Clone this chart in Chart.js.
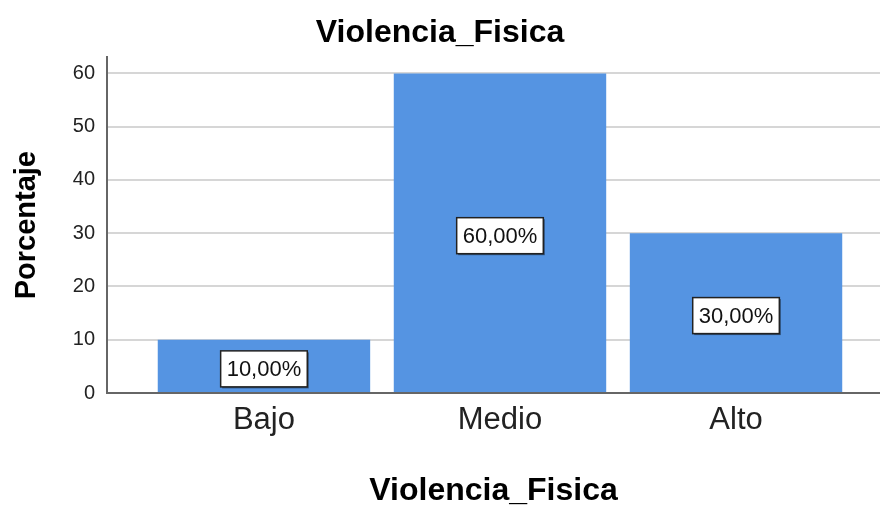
<!DOCTYPE html>
<html>
<head>
<meta charset="utf-8">
<title>Violencia_Fisica</title>
<script src="https://cdn.jsdelivr.net/npm/chart.js@4/dist/chart.umd.min.js"></script>
<style>
    body { margin: 0; background: #fff; }
    canvas { display: block; }
</style>
</head>
<body>
<canvas id="violenciaChart" width="880" height="506"></canvas>
<script>
// Data
const categories = ['Bajo', 'Medio', 'Alto'];
const percentages = [10, 60, 30];
const yTicks = [0, 10, 20, 30, 40, 50, 60];

const barColor = '#5594e2';

Chart.defaults.font.family = '"Liberation Sans", Arial, sans-serif';
Chart.defaults.color = '#222';

// Boxed percentage labels in the middle of each bar
const boxLabels = {
    id: 'boxLabels',
    afterDatasetsDraw(chart) {
        const ctx = chart.ctx;
        const meta = chart.getDatasetMeta(0);
        ctx.save();
        ctx.font = '22px "Liberation Sans", Arial, sans-serif';
        ctx.textAlign = 'center';
        ctx.textBaseline = 'middle';
        meta.data.forEach(function(bar, i) {
            const text = percentages[i].toFixed(2).replace('.', ',') + '%';
            const w = ctx.measureText(text).width + 12;
            const h = 36;
            const cx = bar.x;
            const cy = (bar.y + bar.base) / 2 + 3;
            // little shadow like SPSS
            ctx.fillStyle = 'rgba(0,0,0,0.45)';
            ctx.fillRect(cx - w / 2 + 1.5, cy - h / 2 + 1.5, w, h);
            ctx.fillStyle = '#fff';
            ctx.fillRect(cx - w / 2, cy - h / 2, w, h);
            ctx.strokeStyle = '#222';
            ctx.lineWidth = 1.5;
            ctx.strokeRect(cx - w / 2, cy - h / 2, w, h);
            ctx.fillStyle = '#111';
            ctx.fillText(text, cx, cy + 1);
        });
        ctx.restore();
    }
};

const chart = new Chart(document.getElementById('violenciaChart'), {
    type: 'bar',
    data: {
        datasets: [{
            label: 'Porcentaje',
            data: categories.map((c, i) => ({ x: i + 1, y: percentages[i] })),
            backgroundColor: barColor,
            borderWidth: 0,
            barPercentage: 0.9,
            categoryPercentage: 1.0
        }]
    },
    options: {
        responsive: false,
        animation: false,
        layout: { padding: 0 },
        plugins: {
            legend: { display: false },
            tooltip: { enabled: false },
            title: {
                display: true,
                text: 'Violencia_Fisica',
                color: '#000',
                font: { size: 32, weight: 'bold', lineHeight: 1.2 },
                padding: { top: 14, bottom: 5 }
            }
        },
        scales: {
            x: {
                type: 'linear',
                offset: false,
                min: 0.335,
                max: 3.61,
                afterBuildTicks: function(scale) {
                    scale.ticks = categories.map((c, i) => ({ value: i + 1 }));
                },
                afterFit: function(scale) {
                    scale.height = 113;
                },
                ticks: {
                    color: '#222',
                    font: { size: 31 },
                    padding: 9,
                    callback: function(value) {
                        return categories[value - 1];
                    }
                },
                grid: { display: false, drawTicks: false, offset: false },
                border: { display: true, color: '#666', width: 2 },
                title: {
                    display: true,
                    text: 'Violencia_Fisica',
                    color: '#000',
                    font: { size: 32, weight: 'bold', lineHeight: 0.9 },
                    padding: { top: 0, bottom: 0 }
                }
            },
            y: {
                min: 0,
                max: 63,
                afterBuildTicks: function(scale) {
                    scale.ticks = yTicks.map(v => ({ value: v }));
                },
                afterFit: function(scale) {
                    scale.width = 107;
                },
                ticks: {
                    color: '#222',
                    font: { size: 20 },
                    padding: 12
                },
                grid: {
                    drawTicks: false,
                    lineWidth: 2,
                    color: function(context) {
                        return context.tick && context.tick.value === 0 ? 'rgba(0,0,0,0)' : '#d6d6d6';
                    }
                },
                border: { display: true, color: '#666', width: 2 },
                title: {
                    display: true,
                    text: 'Porcentaje',
                    color: '#000',
                    font: { size: 29, weight: 'bold', lineHeight: 1.2 },
                    padding: { top: 10, bottom: 0 }
                }
            }
        }
    },
    plugins: [boxLabels]
});
</script>
</body>
</html>
